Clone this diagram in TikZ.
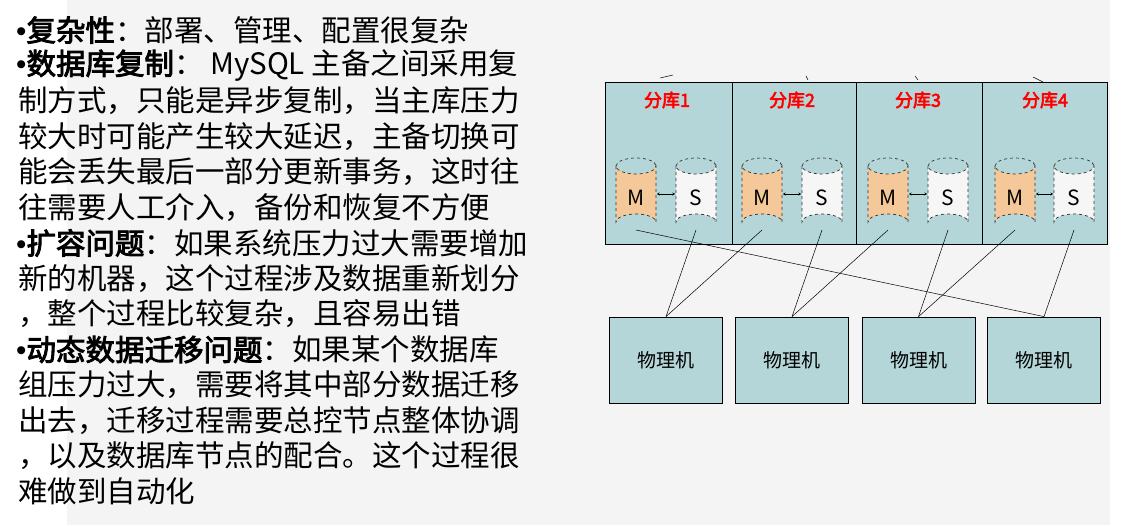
\documentclass[tikz,border=0pt]{standalone}
\usepackage{fontspec}
\usetikzlibrary{arrows.meta}
\setmainfont{Noto Sans CJK SC}[AutoFakeBold=3]
\newfontfamily\bulfont{Liberation Sans}
\newcommand{\bul}{{\bulfont •}}
\begin{document}
\begin{tikzpicture}[x=1pt,y=-1pt,
  line/.style={font=\fontsize{29.5}{32}\selectfont, anchor=west, inner sep=0pt},
  shard/.style={draw=black, line width=0.8pt, fill=shardfill},
  lab/.style={font=\fontsize{18}{20}\selectfont\bfseries, text=red},
  pm/.style={draw=black, line width=0.8pt, fill=shardfill, minimum width=113, minimum height=86, inner sep=0pt, font=\fontsize{19}{21}\selectfont},
  conn/.style={draw=black, line width=0.5pt}]
\definecolor{shardfill}{HTML}{B4D6D8}
\definecolor{mfill}{HTML}{F5C89A}
\definecolor{sfill}{HTML}{F6F6F6}
\definecolor{bg}{HTML}{F4F4F4}
\useasboundingbox (0,0) rectangle (1147,525);
\fill[white] (0,0) rectangle (1147,525);
\fill[bg] (67,0) rectangle (1110,525);
% text
\node[line] (t1) at (16,30) {\bul\textbf{复杂性}：部署、管理、配置很复杂};
\node[line] (t2) at (16,65.5) {\bul\textbf{数据库复制}： MySQL 主备之间采用复};
\node[line] (t3) at (18,101) {制方式，只能是异步复制，当主库压力};
\node[line] (t4) at (18,136.5) {较大时可能产生较大延迟，主备切换可};
\node[line] (t5) at (18,172) {能会丢失最后一部分更新事务，这时往};
\node[line] (t6) at (18,207.5) {往需要人工介入，备份和恢复不方便};
\node[line] (t7) at (16,243) {\bul\textbf{扩容问题}：如果系统压力过大需要增加};
\node[line] (t8) at (18,278.5) {新的机器，这个过程涉及数据重新划分};
\node[line] (t9) at (18,314) {，整个过程比较复杂，且容易出错};
\node[line] (t10) at (16,349.5) {\bul\textbf{动态数据迁移问题}：如果某个数据库};
\node[line] (t11) at (18,385) {组压力过大，需要将其中部分数据迁移};
\node[line] (t12) at (18,420.5) {出去，迁移过程需要总控节点整体协调};
\node[line] (t13) at (18,456) {，以及数据库节点的配合。这个过程很};
\node[line] (t14) at (18,491.5) {难做到自动化};
% top ticks
\draw[conn] (660,78) -- (673,75);
\draw[conn] (806,76) -- (808,80);
\draw[conn] (915,76) -- (918,80);
\draw[conn] (1033,77) -- (1043,82);
% shards
\path[shard] (605,82) rectangle (732,244);
\path[shard] (732,82) rectangle (856,244);
\path[shard] (856,82) rectangle (982,244);
\path[shard] (982,82) rectangle (1107,244);
\node[lab] (l1) at (667,100) {分库1};
\node[lab] (l2) at (792,100) {分库2};
\node[lab] (l3) at (918,100) {分库3};
\node[lab] (l4) at (1045,100) {分库4};
% cylinders
\foreach \i/\mx/\sx in {1/636/696, 2/762/822, 3/888/948, 4/1015/1074}{
  \foreach \t/\cx/\col in {M/\mx/mfill, S/\sx/sfill}{
    \path[draw=black!80, dashed, line width=0.7pt, fill=\col]
      (\cx-20,166) -- (\cx-20,222) arc[start angle=180, end angle=360, x radius=20, y radius=8]
      -- (\cx+20,166) arc[start angle=0, end angle=180, x radius=20, y radius=8] -- cycle;
    \draw[black!80, dashed, line width=0.7pt] (\cx-20,166) arc[start angle=180, end angle=360, x radius=20, y radius=8];
    \node[font=\fontsize{21}{23}\selectfont] (\t\i) at (\cx,198) {\t};
    \coordinate (\t\i b) at (\cx,230);
  }
  \draw[line width=0.6pt, {Stealth[length=2.5pt,width=3pt]}-{Stealth[length=2.5pt,width=3pt]}] (\mx+21,194) -- (\sx-21,194);
}
% physical machines
\node[pm] (p1) at (666,360) {物理机};
\node[pm] (p2) at (792,360) {物理机};
\node[pm] (p3) at (918.5,360) {物理机};
\node[pm] (p4) at (1044,360) {物理机};
\draw[conn] (p1.north) -- (S1b);
\draw[conn] (p1.north) -- (M2b);
\draw[conn] (p2.north) -- (S2b);
\draw[conn] (p2.north) -- (M3b);
\draw[conn] (p3.north) -- (S3b);
\draw[conn] (p3.north) -- (M4b);
\draw[conn] (p4.north) -- (S4b);
\draw[conn] (p4.north) -- (M1b);
\end{tikzpicture}
\end{document}
